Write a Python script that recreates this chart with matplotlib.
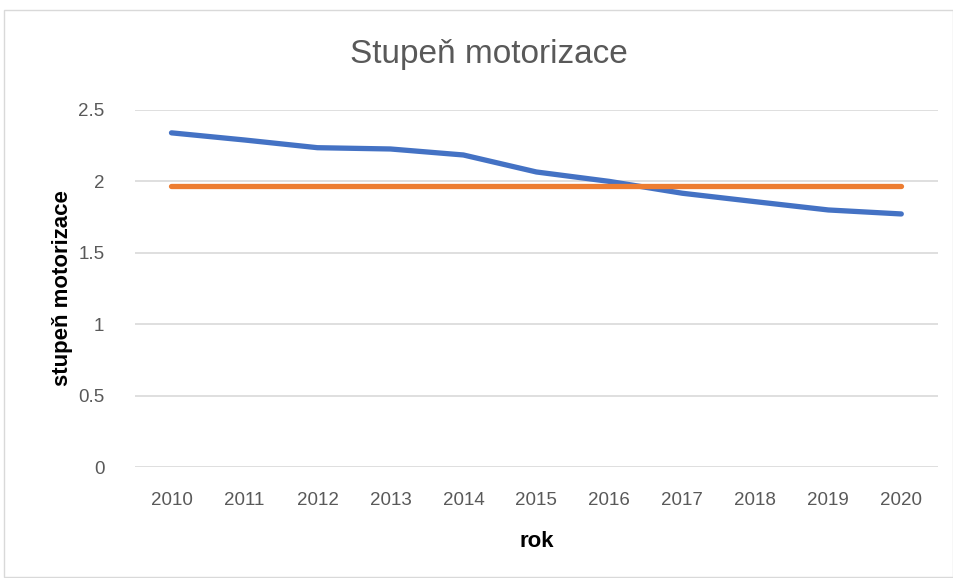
import matplotlib
matplotlib.use("Agg")
import matplotlib.pyplot as plt
from matplotlib.patches import Rectangle

# Data
years = ["2010", "2011", "2012", "2013", "2014", "2015", "2016", "2017", "2018", "2019", "2020"]
stupen = [2.34, 2.29, 2.236, 2.227, 2.185, 2.066, 2.0, 1.917, 1.858, 1.80, 1.772]
prumer = [1.968] * len(years)

yticks = [0, 0.5, 1, 1.5, 2, 2.5]
ytick_labels = ["0", "0.5", "1", "1.5", "2", "2.5"]

plt.rcParams['font.family'] = ['Liberation Sans', 'DejaVu Sans']

fig = plt.figure(figsize=(9.54, 5.78), dpi=100)
ax = fig.add_axes([0.1415, 0.192, 0.8415, 0.6177])

# chart border
fig.patches.append(Rectangle((4 / 954, 1 / 578), 949 / 954, 567 / 578,
                             transform=fig.transFigure, fill=False,
                             edgecolor='#D9D9D9', linewidth=1))

x = range(len(years))
ax.plot(x, stupen, color='#4472C4', linewidth=3.8, solid_capstyle='round', zorder=3)
ax.plot(x, prumer, color='#ED7D31', linewidth=3.8, solid_capstyle='round', zorder=3)

ax.set_xlim(-0.5, len(years) - 0.5)
ax.set_ylim(0, 2.5)
ax.set_xticks(list(x))
ax.set_xticklabels(years)
ax.set_yticks(yticks)
ax.set_yticklabels(ytick_labels)

ax.grid(axis='y', color='#D9D9D9', linewidth=1.2)
ax.set_axisbelow(True)
for s in ax.spines.values():
    s.set_visible(False)
ax.tick_params(length=0, labelsize=13.5, colors='#595959')
ax.tick_params(axis='x', pad=18)
ax.tick_params(axis='y', pad=22)

ax.set_xlabel('rok', fontsize=16, fontweight='bold', color='black', labelpad=16)
ax.set_ylabel('stupeň motorizace', fontsize=16, fontweight='bold', color='black', labelpad=4)
fig.text(0.5125, 0.905, 'Stupeň motorizace', ha='center', va='center',
         fontsize=24, color='#595959')

fig.savefig('out.png', dpi=100)
